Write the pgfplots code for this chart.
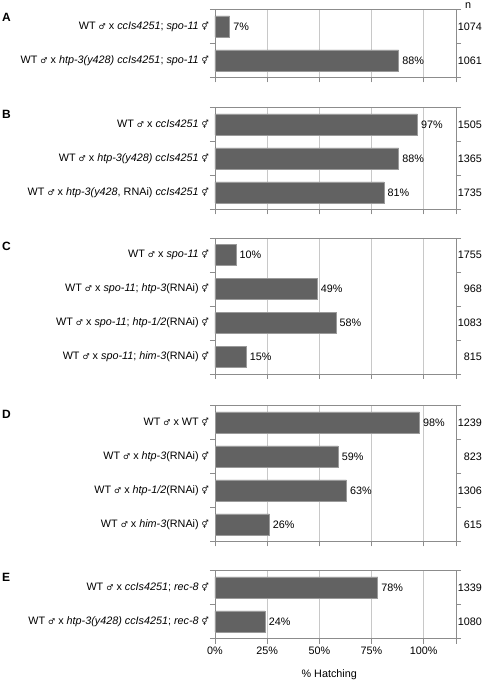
\documentclass[border=0pt]{standalone}
\usepackage{fontspec}
\setmainfont{Liberation Sans}
\newfontfamily\symfont{DejaVu Sans}
\usepackage{pgfplots}
\pgfplotsset{compat=1.18}
\usepackage{pgfplotstable}
\definecolor{axisgray}{HTML}{8C8C8C}
\definecolor{gridgray}{HTML}{C8C8C8}
\definecolor{bargray}{HTML}{626262}
\definecolor{baredge}{HTML}{9A9A9A}
\newcommand{\ma}{{\symfont\fontsize{8}{8}\selectfont ♂}}
\newcommand{\he}{{\symfont\fontsize{8}{8}\selectfont ⚥}}
\newcommand{\lf}{\fontsize{10.8}{12}\selectfont}

\pgfplotstableread{
y v n
0 7 1074
1 88 1061
}\dataA
\pgfplotstableread{
y v n
0 97 1505
1 88 1365
2 81 1735
}\dataB
\pgfplotstableread{
y v n
0 10 1755
1 49 968
2 58 1083
3 15 815
}\dataC
\pgfplotstableread{
y v n
0 98 1239
1 59 823
2 63 1306
3 26 615
}\dataD
\pgfplotstableread{
y v n
0 78 1339
1 24 1080
}\dataE

\tikzset{nlab/.style={anchor=east, font=\lf, inner sep=0pt, xshift=26pt}}
\pgfplotsset{
 panel/.style={
  scale only axis, width=241pt,
  xmin=0, xmax=115.5, y dir=reverse, ymin=-0.5,
  axis line style={axisgray, line width=0.7pt},
  tick style={axisgray, line width=0.7pt},
  tick align=outside, major tick length=5pt, minor tick length=5pt,
  xtick={0,25,50,75,100,115.5}, xticklabels={}, xtick pos=left,
  xmajorgrids, major grid style={gridgray, line width=0.7pt},
  ytick pos=both, yticklabel pos=left,
  every major y tick/.append style={draw=none},
  yticklabel style={font=\lf, xshift=2.5pt},
  xticklabel style={font=\lf},
  clip=false,
  xbar, bar width=0.62,
  nodes near coords={\pgfmathprintnumber{\pgfplotspointmeta}\%},
  point meta=x,
  every node near coord/.append style={font=\lf, black},
  /pgf/number format/assume math mode=true,
 },
 bars/.style={fill=bargray, draw=baredge, line width=0.7pt},
}

\begin{document}
\begin{tikzpicture}
\useasboundingbox (0,0) rectangle (483pt,683pt);
\tikzset{plet/.style={anchor=west, inner sep=0pt, font=\bfseries\fontsize{12}{12}\selectfont}}
\node[plet] at (2pt,666pt) {A};
\node[plet] at (2pt,569pt) {B};
\node[plet] at (2pt,437pt) {C};
\node[plet] at (2pt,269pt) {D};
\node[plet] at (2pt,105.5pt) {E};
\node[font=\lf, inner sep=0pt] at (468pt,677pt) {n};

% A
\begin{axis}[panel, at={(215pt,673.5pt)}, anchor=north west, height=68pt,
  ymax=1.5, ytick={0,1}, minor ytick={-0.5,0.5,1.5},
  yticklabels={{WT \ma{} x \textit{ccIs4251}; \textit{spo-11} \he},
               {WT \ma{} x \textit{htp-3(y428) ccIs4251}; \textit{spo-11} \he}}]
\addplot[bars] table[x=v,y=y] {\dataA};
\node[nlab] at (axis cs:115.5,0) {1074};
\node[nlab] at (axis cs:115.5,1) {1061};
\end{axis}

% B
\begin{axis}[panel, at={(215pt,575.5pt)}, anchor=north west, height=102pt,
  ymax=2.5, ytick={0,1,2}, minor ytick={-0.5,0.5,1.5,2.5},
  yticklabels={{WT \ma{} x \textit{ccIs4251} \he},
               {WT \ma{} x \textit{htp-3(y428) ccIs4251} \he},
               {WT \ma{} x \textit{htp-3(y428}, RNAi) \textit{ccIs4251} \he}}]
\addplot[bars] table[x=v,y=y] {\dataB};
\node[nlab] at (axis cs:115.5,0) {1505};
\node[nlab] at (axis cs:115.5,1) {1365};
\node[nlab] at (axis cs:115.5,2) {1735};
\end{axis}

% C
\begin{axis}[panel, at={(215pt,445pt)}, anchor=north west, height=136pt,
  ymax=3.5, ytick={0,1,2,3}, minor ytick={-0.5,0.5,1.5,2.5,3.5},
  yticklabels={{WT \ma{} x \textit{spo-11} \he},
               {WT \ma{} x \textit{spo-11}; \textit{htp-3}(RNAi) \he},
               {WT \ma{} x \textit{spo-11}; \textit{htp-1/2}(RNAi) \he},
               {WT \ma{} x \textit{spo-11}; \textit{him-3}(RNAi) \he}}]
\addplot[bars] table[x=v,y=y] {\dataC};
\node[nlab] at (axis cs:115.5,0) {1755};
\node[nlab] at (axis cs:115.5,1) {968};
\node[nlab] at (axis cs:115.5,2) {1083};
\node[nlab] at (axis cs:115.5,3) {815};
\end{axis}

% D
\begin{axis}[panel, at={(215pt,277.5pt)}, anchor=north west, height=136pt,
  ymax=3.5, ytick={0,1,2,3}, minor ytick={-0.5,0.5,1.5,2.5,3.5},
  yticklabels={{WT \ma{} x WT \he},
               {WT \ma{} x \textit{htp-3}(RNAi) \he},
               {WT \ma{} x \textit{htp-1/2}(RNAi) \he},
               {WT \ma{} x \textit{him-3}(RNAi) \he}}]
\addplot[bars] table[x=v,y=y] {\dataD};
\node[nlab] at (axis cs:115.5,0) {1239};
\node[nlab] at (axis cs:115.5,1) {823};
\node[nlab] at (axis cs:115.5,2) {1306};
\node[nlab] at (axis cs:115.5,3) {615};
\end{axis}

% E
\begin{axis}[panel, at={(215pt,112.5pt)}, anchor=north west, height=68pt,
  ymax=1.5, ytick={0,1}, minor ytick={-0.5,0.5,1.5},
  xticklabels={0\%,25\%,50\%,75\%,100\%,{}},
  xlabel={\% Hatching},
  x label style={at={(axis description cs:0.474,0)}, anchor=center, yshift=-36.5pt, font=\lf},
  yticklabels={{WT \ma{} x \textit{ccIs4251}; \textit{rec-8} \he},
               {WT \ma{} x \textit{htp-3(y428) ccIs4251}; \textit{rec-8} \he}}]
\addplot[bars] table[x=v,y=y] {\dataE};
\node[nlab] at (axis cs:115.5,0) {1339};
\node[nlab] at (axis cs:115.5,1) {1080};
\end{axis}
\end{tikzpicture}
\end{document}
